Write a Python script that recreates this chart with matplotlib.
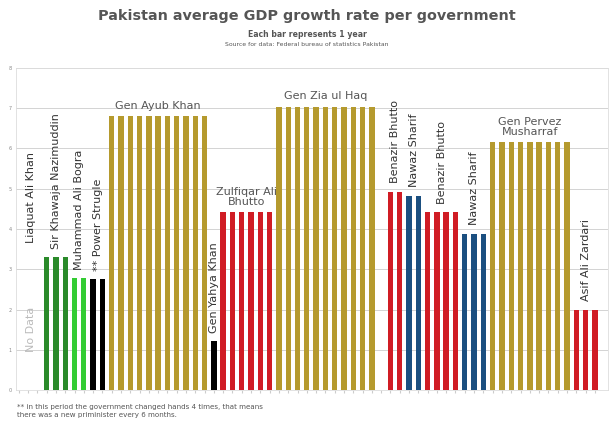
import numpy as np
import matplotlib
matplotlib.use("Agg")
import matplotlib.pyplot as plt

# one entry per government, each bar is one year
governments = ["Liaquat Ali Khan", "Sir Khawaja Nazimuddin", "Muhammad Ali Bogra",
               "** Power Strugle", "Gen Ayub Khan", "Gen Yahya Khan",
               "Zulfiqar Ali\nBhutto", "Gen Zia ul Haq", "", "Benazir Bhutto",
               "Nawaz Sharif", "Benazir Bhutto", "Nawaz Sharif",
               "Gen Pervez\nMusharraf", "Asif Ali Zardari"]
years = [3, 3, 2, 2, 11, 1, 6, 11, 1, 2, 2, 4, 3, 9, 3]
growth = [np.nan, 3.3, 2.78, 2.75, 6.8, 1.22, 4.42, 7.03, np.nan, 4.93,
          4.83, 4.42, 3.88, 6.15, 2.0]
colors = ["#ffffff", "#2a8a2a", "#33cc33", "#000000", "#b59a2e", "#000000",
          "#d01c24", "#b59a2e", "#ffffff", "#d01c24", "#1b4f80", "#d01c24",
          "#1b4f80", "#b59a2e", "#d01c24"]
horizontal = ["Gen Ayub Khan", "Zulfiqar Ali\nBhutto", "Gen Zia ul Haq",
              "Gen Pervez\nMusharraf"]

fig = plt.figure(figsize=(6.14, 4.43), dpi=100)
ax = fig.add_axes([0.026, 0.1196, 0.964, 0.727])

start = -3
for name, n, g, c in zip(governments, years, growth, colors):
    xs = np.arange(start, start + n)
    center = xs.mean()
    if not np.isnan(g):
        ax.bar(xs, [g] * n, width=0.58, color=c, zorder=2)
    if name in horizontal:
        ax.annotate(name, (center, g), xytext=(0, 4), textcoords="offset points",
                    ha="center", va="bottom", fontsize=8, color="#555555",
                    linespacing=1.0)
    elif name == "Liaquat Ali Khan":
        ax.text(center + 0.3, 3.65, name, rotation=90, ha="center", va="bottom",
                fontsize=8, color="#333333")
        ax.text(center + 0.3, 1.5, "No Data", rotation=90, ha="center",
                va="center", fontsize=8, color="#bbbbbb")
    elif name:
        ax.annotate(name, (center, g), xytext=(0, 6), textcoords="offset points",
                    ha="center", va="bottom", fontsize=8, color="#333333",
                    rotation=90)
    start += n

ax.set_xlim(-3.3, start + 0.4)
ax.set_ylim(0, 8)
ax.set_yticks(range(9))
ax.tick_params(axis="y", length=0, labelsize=3.5, labelcolor="#888888", pad=3)
ax.set_xticks(np.arange(-3, start))
ax.tick_params(axis="x", length=2, color="#cccccc", labelbottom=False)
ax.grid(axis="y", color="#cccccc", linewidth=0.6, zorder=0)
for s in ax.spines.values():
    s.set_color("#dddddd")
    s.set_linewidth(0.6)

fig.text(0.5, 0.963, "Pakistan average GDP growth rate per government",
         ha="center", va="center", fontsize=10.4, fontweight="bold", color="#555555")
fig.text(0.5, 0.923, "Each bar represents 1 year", ha="center", va="center",
         fontsize=5.6, fontweight="bold", color="#555555")
fig.text(0.5, 0.899, "Source for data: Federal bureau of statistics Pakistan",
         ha="center", va="center", fontsize=4.4, color="#555555")
fig.text(0.027, 0.072, "** in this period the government changed hands 4 times, that means\n"
         "there was a new priminister every 6 months.", ha="left", va="center",
         fontsize=5.1, color="#555555", linespacing=1.3)

fig.savefig("out.png", dpi=100)
